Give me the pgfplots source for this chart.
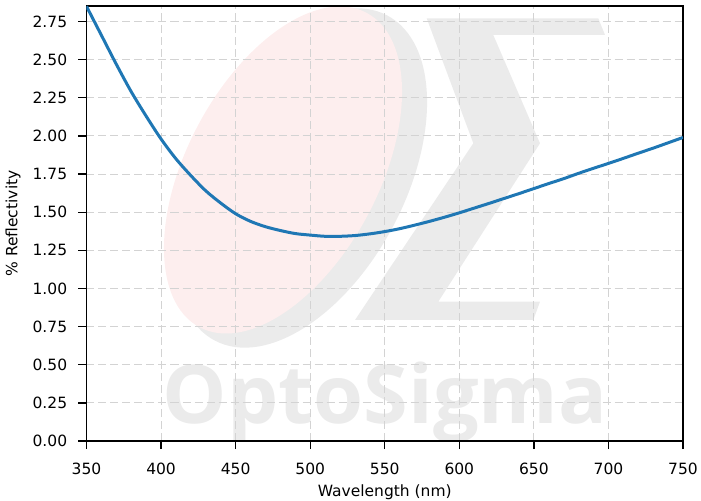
\documentclass[border=0pt]{standalone}
\usepackage{pgfplots}
\pgfplotsset{compat=1.18}
\usepackage{fontspec}
\setmainfont{DejaVu Sans}
\newfontfamily\logofont{Open Sans}
\definecolor{curve}{HTML}{1F77B4}
\definecolor{wmgray}{HTML}{EBEBEB}
\definecolor{wmpink}{HTML}{FDEEEE}
\definecolor{gridgray}{HTML}{D3D3D3}

\begin{document}
\fontsize{15.5bp}{18bp}\selectfont
\begin{tikzpicture}
% watermark, behind the axis
\begin{scope}
  \clip (0,0) rectangle (596.5bp,435bp);
  \fill[wmgray, rotate around={62:(214.5bp,263bp)}] (214.5bp,263bp) ellipse [x radius=184bp, y radius=104bp];
  \fill[wmpink, rotate around={62:(196.5bp,271bp)}] (196.5bp,271bp) ellipse [x radius=178bp, y radius=96bp];
  \fill[wmgray] (340.2bp,422.7bp) -- (511.8bp,422.7bp) -- (518.5bp,406bp) -- (406.8bp,406bp)
    -- (453.5bp,297.7bp) -- (351.8bp,139.3bp) -- (453.5bp,139.3bp) -- (446.8bp,121bp)
    -- (268.5bp,121bp) -- (386.8bp,297.7bp) -- cycle;
  \node[wmgray, anchor=base, inner sep=0pt, font=\logofont\bfseries\fontsize{81bp}{86bp}\selectfont] at (298.5bp,18bp) {OptoSigma};
\end{scope}

\begin{axis}[
    scale only axis,
    width=596.5bp, height=435bp,
    xmin=350, xmax=750,
    ymin=0, ymax=2.852,
    xtick={350,400,...,750},
    ytick={0,0.25,...,2.75},
    xtick pos=bottom, ytick pos=left,
    tick align=outside,
    major tick length=8bp,
    major tick style={black, line width=1.3bp},
    axis line style={line width=1.6bp},
    grid=major,
    major grid style={gridgray, line width=1.1bp, dash pattern=on 8bp off 4bp},
    /pgf/number format/assume math mode=true,
    /pgf/number format/1000 sep={},
    y tick label style={/pgf/number format/fixed, /pgf/number format/fixed zerofill, /pgf/number format/precision=2},
    every x tick label/.append style={yshift=-9bp},
    every y tick label/.append style={xshift=-6bp},
    xlabel={Wavelength (nm)},
    ylabel={\% Reflectivity},
    xlabel style={at={(axis description cs:0.5,-0.1287)}, anchor=base},
    ylabel style={at={(axis description cs:-0.1232,0.5)}, anchor=center},
]
\addplot[color=curve, line width=3bp, smooth] coordinates {
    (350,2.85) (360,2.66) (370,2.47) (380,2.29) (390,2.13) (400,1.98)
    (410,1.85) (420,1.74) (430,1.64) (440,1.56) (450,1.49) (460,1.44)
    (470,1.405) (480,1.38) (490,1.36) (500,1.35) (510,1.342) (520,1.342)
    (530,1.347) (540,1.358) (550,1.373) (560,1.392) (570,1.415) (580,1.44)
    (590,1.467) (600,1.496) (610,1.527) (620,1.558) (630,1.59) (640,1.622)
    (650,1.655) (660,1.688) (670,1.72) (680,1.755) (690,1.788) (700,1.82)
    (710,1.853) (720,1.887) (730,1.92) (740,1.955) (750,1.99)
};
\end{axis}
\pgfresetboundingbox
\path[use as bounding box] (-86.5bp,-60bp) rectangle (614.5bp,441bp);
\end{tikzpicture}
\end{document}
